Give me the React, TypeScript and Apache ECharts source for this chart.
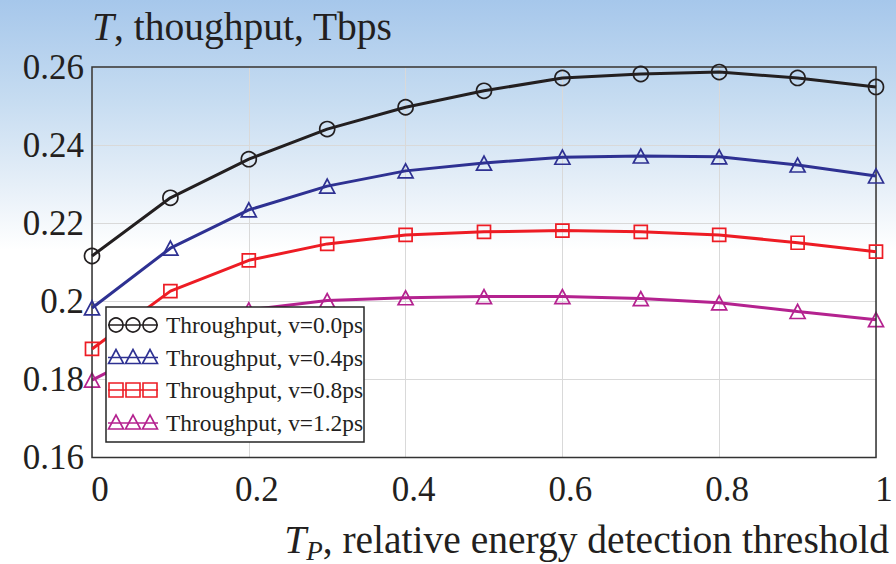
import React, { useEffect, useRef } from "react";
import * as echarts from "echarts";

const xValues = [0, 0.1, 0.2, 0.3, 0.4, 0.5, 0.6, 0.7, 0.8, 0.9, 1.0];
const tput00 = [0.2116, 0.2265, 0.2364, 0.2441, 0.2497, 0.2539, 0.2572, 0.2582, 0.2587, 0.2572, 0.2549];
const tput04 = [0.1983, 0.2136, 0.2234, 0.2295, 0.2334, 0.2354, 0.2369, 0.2372, 0.2370, 0.2349, 0.2321];
const tput08 = [0.1878, 0.2026, 0.2105, 0.2147, 0.2170, 0.2178, 0.2181, 0.2178, 0.2170, 0.2150, 0.2127];
const tput12 = [0.1798, 0.1900, 0.1978, 0.2002, 0.2009, 0.2012, 0.2012, 0.2007, 0.1996, 0.1974, 0.1953];
const seriesNames = [
  "Throughput, v=0.0ps",
  "Throughput, v=0.4ps",
  "Throughput, v=0.8ps",
  "Throughput, v=1.2ps",
];
const xTickLabels = ["0", "0.2", "0.4", "0.6", "0.8", "1"];
const yTickLabels = ["0.16", "0.18", "0.2", "0.22", "0.24", "0.26"];

const colors = ["#231f20", "#2e3192", "#ed1c24", "#b4228f"];
const symbols = ["circle", "triangle", "rect", "triangle"];
const symbolSizes: any[] = [15, [15, 14], 13, [15, 14]];
const FONT = '"Liberation Serif", "Times New Roman", serif';

export default function App() {
  const ref = useRef<HTMLDivElement>(null);
  useEffect(() => {
    document.body.style.margin = "0";
    const chart = echarts.init(ref.current!, undefined, { renderer: "svg" });
    const allData = [tput00, tput04, tput08, tput12];

    const series = allData.map((d, i) => ({
      name: seriesNames[i],
      type: "line",
      data: d.map((v, j) => [xValues[j], v]),
      symbol: symbols[i],
      symbolSize: symbolSizes[i],
      showAllSymbol: true,
      lineStyle: { color: colors[i], width: 3 },
      itemStyle: { color: "rgba(0,0,0,0)", borderColor: colors[i], borderWidth: 1.7 },
      emphasis: { disabled: true },
      z: 2 + (3 - i),
    }));

    // legend drawn as graphic
    const legendEls: any[] = [];
    const boxX = 106, boxY = 307, boxW = 258, boxH = 135;
    legendEls.push({
      type: "rect",
      shape: { x: boxX, y: boxY, width: boxW, height: boxH },
      style: { fill: "#ffffff", stroke: "#262626", lineWidth: 1.5 },
      z: 100,
    });
    const rowY = [325, 357.5, 390, 423];
    const mx = [116, 133, 150];
    rowY.forEach((y, i) => {
      const c = colors[i];
      legendEls.push({
        type: "polyline",
        shape: { points: [[108, y], [158, y]] },
        style: { stroke: c, lineWidth: 1.6, fill: null },
        z: 101,
      });
      mx.forEach((x) => {
        if (symbols[i] === "circle") {
          legendEls.push({
            type: "circle",
            shape: { cx: x, cy: y, r: 7 },
            style: { stroke: c, lineWidth: 1.6, fill: "rgba(0,0,0,0)" },
            z: 101,
          });
        } else if (symbols[i] === "rect") {
          legendEls.push({
            type: "rect",
            shape: { x: x - 7, y: y - 7, width: 14, height: 14 },
            style: { stroke: c, lineWidth: 1.6, fill: "rgba(0,0,0,0)" },
            z: 101,
          });
        } else {
          legendEls.push({
            type: "polygon",
            shape: { points: [[x, y - 8], [x - 7.5, y + 6], [x + 7.5, y + 6]] },
            style: { stroke: c, lineWidth: 1.6, fill: "rgba(0,0,0,0)" },
            z: 101,
          });
        }
      });
      legendEls.push({
        type: "text",
        x: 166,
        y: y,
        style: {
          text: seriesNames[i],
          font: `23.4px ${FONT}`,
          fill: "#231f20",
          verticalAlign: "middle",
          align: "left",
        },
        z: 101,
      });
    });

    const option: any = {
      animation: false,
      backgroundColor: "transparent",
      grid: {
        left: 92,
        right: 20,
        top: 67,
        bottom: 106.5,
        show: true,
        borderColor: "#333333",
        borderWidth: 1.5,
        backgroundColor: "transparent",
        z: 3,
      },
      xAxis: {
        type: "value",
        min: 0,
        max: 1,
        interval: 0.2,
        axisLine: { show: false },
        axisTick: { show: false },
        splitLine: { show: true, lineStyle: { color: "#d9d9d9", width: 1 } },
        axisLabel: {
          margin: 14,
          padding: [0, 0, 0, 16],
          fontSize: 35,
          fontFamily: FONT,
          color: "#231f20",
          formatter: (v: number) => xTickLabels[Math.round(v / 0.2)] ?? "",
        },
      },
      yAxis: {
        type: "value",
        min: 0.16,
        max: 0.26,
        interval: 0.02,
        axisLine: { show: false },
        axisTick: { show: false },
        splitLine: { show: true, lineStyle: { color: "#d9d9d9", width: 1 } },
        axisLabel: {
          margin: 8,
          padding: [6, 0, 0, 0],
          fontSize: 35,
          fontFamily: FONT,
          color: "#231f20",
          formatter: (v: number) => yTickLabels[Math.round((v - 0.16) / 0.02)] ?? "",
        },
      },
      series,
      graphic: [
        {
          type: "text",
          x: 92,
          y: 27,
          style: {
            text: "{i|T}, thoughput, Tbps",
            font: `39.5px ${FONT}`,
            fill: "#231f20",
            verticalAlign: "middle",
            align: "left",
            rich: {
              i: { fontStyle: "italic", fontSize: 39.5, fontFamily: FONT, fill: "#231f20" },
            },
          },
          z: 50,
        },
        {
          type: "text",
          x: 889,
          y: 540,
          style: {
            text: "{i|T}{s|P}{n|, relative energy detection threshold}",
            font: `39.5px ${FONT}`,
            fill: "#231f20",
            verticalAlign: "middle",
            align: "right",
            rich: {
              i: { fontStyle: "italic", fontSize: 39.5, lineHeight: 40, fontFamily: FONT, fill: "#231f20" },
              s: { fontStyle: "italic", fontSize: 27, lineHeight: 48, fontFamily: FONT, fill: "#231f20", verticalAlign: "bottom" },
              n: { fontSize: 39.5, lineHeight: 40, fontFamily: FONT, fill: "#231f20" },
            },
          },
          z: 50,
        },
        ...legendEls,
      ],
    };
    chart.setOption(option);
    return () => chart.dispose();
  }, []);

  return (
    <div
      style={{
        width: 896,
        height: 564,
        background:
          "linear-gradient(180deg, #a6c7eb 0px, #c6dcf1 100px, #e6eff8 185px, #ffffff 250px, #ffffff 564px)",
      }}
    >
      <div ref={ref} style={{ width: 896, height: 564 }} />
    </div>
  );
}
